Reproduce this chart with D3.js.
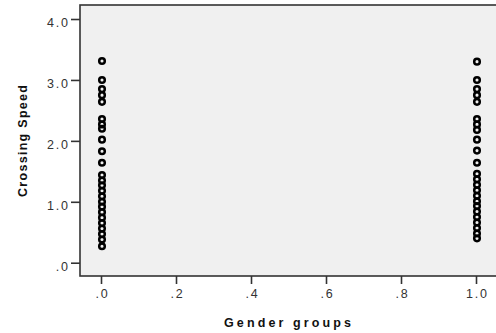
<!DOCTYPE html>
<html>
<head>
<meta charset="utf-8">
<script src="https://cdn.jsdelivr.net/npm/d3@7/dist/d3.min.js"></script>
<style>
  html, body { margin: 0; padding: 0; background: #fff; }
  svg { display: block; }
  .tick text { font-family: "Liberation Sans", Arial, sans-serif; font-size: 12.5px; fill: #333; letter-spacing: 1.8px; }
  .tick line { stroke: #333; stroke-width: 1.6; }
  .title { font-family: "Liberation Sans", Arial, sans-serif; font-size: 12.5px; font-weight: bold; fill: #111; }
</style>
</head>
<body>
<svg id="chart" width="496" height="333"></svg>
<script>
// Gender groups (0 / 1) against crossing speed
const groups = [0, 1];
const speedGroup0 = [3.31, 3.00, 2.85, 2.75, 2.64, 2.36, 2.27, 2.20, 2.02, 1.83, 1.64,
  1.44, 1.35, 1.27, 1.18, 1.09, 1.00, 0.92, 0.83, 0.74, 0.65, 0.56, 0.47, 0.38, 0.27];
const speedGroup1 = [3.30, 3.00, 2.85, 2.75, 2.64, 2.36, 2.27, 2.18, 2.02, 1.84, 1.64,
  1.46, 1.37, 1.28, 1.19, 1.10, 1.01, 0.93, 0.84, 0.75, 0.66, 0.57, 0.48, 0.40];
const xTickValues = [0, 0.2, 0.4, 0.6, 0.8, 1.0];
const xTickLabels = [".0", ".2", ".4", ".6", ".8", "1.0"];
const yTickValues = [0, 1, 2, 3, 4];
const yTickLabels = [".0", "1.0", "2.0", "3.0", "4.0"];
const xTitle = "Gender groups";
const yTitle = "Crossing Speed";

const svg = d3.select("#chart");

const x = d3.scaleLinear().domain([-0.056, 1.056]).range([80, 497]);
const y = d3.scaleLinear().domain([-0.218, 4.23]).range([276, 5]);

// plot frame
svg.append("rect")
  .attr("x", x.range()[0]).attr("y", y.range()[1])
  .attr("width", x.range()[1] - x.range()[0])
  .attr("height", y.range()[0] - y.range()[1])
  .attr("fill", "#f0f0f0")
  .attr("stroke", "#333")
  .attr("stroke-width", 1.6);

// y axis
const yAxis = svg.append("g")
  .attr("transform", `translate(${x.range()[0]},0)`)
  .call(d3.axisLeft(y).tickValues(yTickValues).tickSize(9).tickPadding(3)
    .tickFormat((d, i) => yTickLabels[i]));
yAxis.select(".domain").remove();
yAxis.selectAll(".tick text").attr("dy", "0.6em").attr("dx", "1.8px");

// x axis
const xAxis = svg.append("g")
  .attr("transform", `translate(0,${y.range()[0]})`)
  .call(d3.axisBottom(x).tickValues(xTickValues).tickSize(8).tickPadding(5)
    .tickFormat((d, i) => xTickLabels[i]));
xAxis.select(".domain").remove();
xAxis.selectAll(".tick text").attr("dx", "0.9px");

// axis titles
svg.append("text").attr("class", "title")
  .attr("x", (x.range()[0] + x.range()[1]) / 2 - 1)
  .attr("y", 327)
  .attr("text-anchor", "middle")
  .attr("textLength", 127).attr("lengthAdjust", "spacing")
  .text(xTitle);

svg.append("text").attr("class", "title")
  .attr("transform", "translate(27,141) rotate(-90)")
  .attr("text-anchor", "middle")
  .attr("textLength", 112).attr("lengthAdjust", "spacing")
  .text(yTitle);

// points: open rings with a heavy outline
const points = [
  ...speedGroup0.map(v => ({ g: groups[0], v })),
  ...speedGroup1.map(v => ({ g: groups[1], v }))
];
svg.append("g").selectAll("circle")
  .data(points)
  .join("circle")
  .attr("cx", d => x(d.g) + 1)
  .attr("cy", d => y(d.v))
  .attr("r", 2.8)
  .attr("fill", "none")
  .attr("stroke", "#000")
  .attr("stroke-width", 2.5);
</script>
</body>
</html>
